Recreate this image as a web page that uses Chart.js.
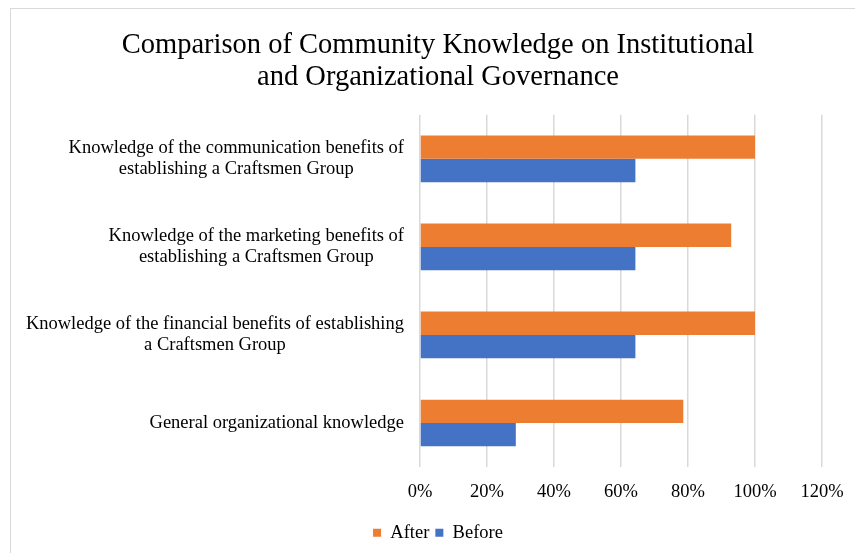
<!DOCTYPE html>
<html>
<head>
  <title>Community Knowledge</title>
  <style>
    html, body { margin: 0; padding: 0; background: #fff; overflow: hidden; }
    #frame { position: absolute; left: 10px; top: 8px; width: 870px; height: 570px; border: 1.5px solid #d9d9d9; }
    #wrap { position: absolute; left: 10px; top: 8px; width: 856px; height: 545px; }
  </style>
</head>
<body>
  <div id="frame"></div>
  <div id="wrap"><canvas id="myChart"></canvas></div>
  <script src="https://cdn.jsdelivr.net/npm/chart.js@4.4.0/dist/chart.umd.min.js"></script>
  <script>
    // categories, top to bottom
    let categories = [
      ['Knowledge of the communication benefits of', 'establishing a Craftsmen Group'],
      ['Knowledge of the marketing benefits of', 'establishing a Craftsmen Group'],
      ['Knowledge of the financial benefits of establishing', 'a Craftsmen Group'],
      ['General organizational knowledge']
    ];
    let after = [100, 92.9, 100, 78.6];
    let before = [64.3, 64.3, 64.3, 28.6];
    let xTicks = [0, 20, 40, 60, 80, 100, 120];

    const serif = 'Liberation Serif';

    // y labels: each block right aligned, lines centred inside the block
    const yLabels = {
      id: 'yLabels',
      afterDraw(chart) {
        let ctx = chart.ctx;
        let scale = chart.scales.y;
        ctx.save();
        ctx.font = '18.5px "' + serif + '"';
        ctx.fillStyle = '#000';
        ctx.textAlign = 'center';
        ctx.textBaseline = 'middle';
        categories.forEach((lines, i) => {
          let w = Math.max(...lines.map(l => ctx.measureText(l).width));
          let cx = scale.right - 16 - w / 2;
          let cy = scale.getPixelForValue(i);
          let lh = 21;
          lines.forEach((l, j) => {
            ctx.fillText(l, cx, cy + (j - (lines.length - 1) / 2) * lh);
          });
        });
        ctx.restore();
      }
    };

    let ctx = document.getElementById('myChart').getContext('2d');
    let chart = new Chart(ctx, {
      type: 'bar',
      data: {
        labels: categories,
        datasets: [{
          label: 'After',
          data: after,
          backgroundColor: '#ED7D31',
          categoryPercentage: 0.53,
          barPercentage: 1
        }, {
          label: 'Before',
          data: before,
          backgroundColor: '#4472C4',
          categoryPercentage: 0.53,
          barPercentage: 1
        }]
      },
      options: {
        indexAxis: 'y',
        responsive: true,
        maintainAspectRatio: false,
        animation: false,
        layout: { padding: { left: 44, right: 44, top: 0, bottom: 1 } },
        plugins: {
          title: {
            display: true,
            text: ['Comparison of Community Knowledge on Institutional', 'and Organizational Governance'],
            color: '#000',
            font: { family: serif, size: 28.5, weight: 'normal', lineHeight: 1.12 },
            padding: { top: 22, bottom: 21 }
          },
          legend: {
            position: 'bottom',
            labels: {
              color: '#000',
              boxWidth: 8,
              boxHeight: 8,
              padding: 6,
              font: { family: serif, size: 18.5 }
            }
          },
          tooltip: { enabled: false }
        },
        scales: {
          x: {
            min: 0,
            max: 120,
            afterBuildTicks: (scale) => { scale.ticks = xTicks.map(v => ({ value: v })); },
            ticks: {
              color: '#000',
              padding: 16,
              font: { family: serif, size: 18.5, lineHeight: 1 },
              callback: function(value) { return value + '%'; }
            },
            grid: { color: '#d9d9d9', lineWidth: 1.5, drawTicks: false },
            border: { display: false }
          },
          y: {
            ticks: { display: false },
            grid: { display: false },
            border: { display: false },
            afterFit: (scale) => { scale.width = 366; }
          }
        }
      },
      plugins: [yLabels]
    });
  </script>
</body>
</html>
